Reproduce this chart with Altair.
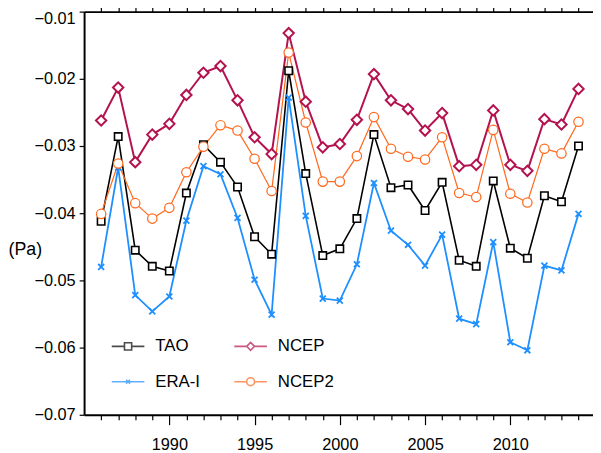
import altair as alt
import pandas as pd

years = list(range(1986, 2015))

tao = [-0.0412, -0.0286, -0.0455, -0.0479, -0.0486, -0.0370, -0.0298, -0.0324, -0.0361, -0.0435,
       -0.0461, -0.0188, -0.0341, -0.0463, -0.0453, -0.0408, -0.0283, -0.0362, -0.0358, -0.0396,
       -0.0354, -0.0470, -0.0479, -0.0352, -0.0452, -0.0467, -0.0374, -0.0383, -0.0300]

era_i = [-0.0480, -0.0332, -0.0522, -0.0546, -0.0524, -0.0411, -0.0330, -0.0342, -0.0407, -0.0499,
         -0.0551, -0.0228, -0.0404, -0.0527, -0.0530, -0.0476, -0.0355, -0.0426, -0.0447, -0.0478,
         -0.0432, -0.0557, -0.0565, -0.0443, -0.0592, -0.0604, -0.0478, -0.0485, -0.0401]

ncep = [-0.0262, -0.0213, -0.0324, -0.0283, -0.0267, -0.0224, -0.0191, -0.0181, -0.0232, -0.0287,
        -0.0312, -0.0132, -0.0234, -0.0302, -0.0297, -0.0261, -0.0193, -0.0232, -0.0245, -0.0277,
        -0.0251, -0.0330, -0.0328, -0.0247, -0.0328, -0.0337, -0.0260, -0.0268, -0.0215]

ncep2 = [-0.0401, -0.0326, -0.0385, -0.0408, -0.0392, -0.0339, -0.0301, -0.0269, -0.0277, -0.0319,
         -0.0367, -0.0161, -0.0265, -0.0353, -0.0353, -0.0315, -0.0257, -0.0304, -0.0316, -0.0320,
         -0.0287, -0.0370, -0.0376, -0.0276, -0.0371, -0.0384, -0.0304, -0.0311, -0.0264]

series_names = ["TAO", "NCEP", "ERA-I", "NCEP2"]
series_colors = ["#000000", "#b3124e", "#1e8fff", "#ff6a1f"]
y_ticks = [-0.07, -0.06, -0.05, -0.04, -0.03, -0.02, -0.01]

rows = []
for name, vals in [("TAO", tao), ("ERA-I", era_i), ("NCEP", ncep), ("NCEP2", ncep2)]:
    for yr, v in zip(years, vals):
        rows.append({"year": yr, "value": v, "series": name})
df = pd.DataFrame(rows)

FONT = "Liberation Sans"

xscale = alt.Scale(domain=[1985, 2014.85], nice=False, zero=False)
yscale = alt.Scale(domain=[-0.07, -0.01], nice=False, zero=False)
color_scale = alt.Scale(domain=series_names, range=series_colors)
sw_scale = alt.Scale(type="ordinal", domain=series_names, range=[1.6, 2.0, 1.8, 1.25])

x_path = "M-1,-1L1,1M-1,1L1,-1"
point_shape_scale = alt.Scale(domain=series_names, range=["square", "diamond", x_path, "circle"])
size_scale = alt.Scale(type="ordinal", domain=series_names, range=[56, 110, 36, 90])

legend_paths = [
    "M-1,0H-0.22M0.22,0H1M-0.22,-0.22H0.22V0.22H-0.22Z",
    "M-1,0H-0.24M0.24,0H1M-0.24,0L0,-0.24L0.24,0L0,0.24Z",
    "M-1,0H1M-0.12,-0.12L0.12,0.12M-0.12,0.12L0.12,-0.12",
    "M-1,0H-0.24M0.24,0H1M-0.24,0A0.24,0.24,0,1,0,0.24,0A0.24,0.24,0,1,0,-0.24,0",
]
legend_shape_scale = alt.Scale(domain=series_names, range=legend_paths)

y_axis = alt.Axis(
    values=y_ticks, format=".2f", tickSize=5, tickColor="black", tickWidth=1.2,
    domainColor="black", domainWidth=2, grid=False,
    labelFont=FONT, labelFontSize=16.5, labelColor="black", labelPadding=4,
    labelOffset={"expr": "datum.value > -0.0105 ? 7 : 0"},
    title="(Pa)", titleAngle=0, titleX=-77, titleY=241, titleAlign="left",
    titleBaseline="middle", titleFont=FONT, titleFontSize=18, titleFontWeight="normal",
    titleColor="black",
)

bottom_axis = alt.Axis(
    orient="bottom", values=years, format="d", grid=False,
    tickSize={"expr": "datum.value % 5 === 0 ? 10 : 5"}, tickColor="black", tickWidth=1.2,
    domainColor="black", domainWidth=2,
    labelExpr="datum.value % 5 === 0 ? datum.label : ''",
    labelFont=FONT, labelFontSize=16.5, labelColor="black", labelPadding=12,
    title=None,
)

top_axis = alt.Axis(
    orient="top", values=years, grid=False, labels=False,
    tickSize=5, tickColor="black", tickWidth=1.2,
    domainColor="black", domainWidth=2, title=None,
)

lines = alt.Chart(df).mark_line().encode(
    x=alt.X("year:Q", scale=xscale, axis=bottom_axis),
    y=alt.Y("value:Q", scale=yscale, axis=y_axis),
    color=alt.Color("series:N", scale=color_scale, legend=None),
    strokeWidth=alt.StrokeWidth("series:N", scale=sw_scale, legend=None),
)

points = alt.Chart(df).mark_point(filled=False, fill="white", fillOpacity=1, opacity=1).encode(
    x=alt.X("year:Q", scale=xscale, axis=top_axis),
    y=alt.Y("value:Q", scale=yscale, axis=y_axis),
    color=alt.Color("series:N", scale=color_scale, legend=None),
    shape=alt.Shape("series:N", scale=point_shape_scale, legend=None),
    size=alt.Size("series:N", scale=size_scale, legend=None),
    strokeWidth=alt.StrokeWidth("series:N", scale=sw_scale, legend=None),
)

legend = alt.Legend(
    orient="none", legendX=27, legendY=321, columns=2, direction="horizontal",
    columnPadding=30, rowPadding=10,
    title=None, labelFont=FONT, labelFontSize=17, labelColor="black", labelOffset=10,
    symbolSize=1089, symbolStrokeWidth=1.6, symbolFillColor="white", padding=0,
)

legend_layer = alt.Chart(df).transform_filter("false").mark_point(filled=False).encode(
    shape=alt.Shape("series:N", scale=legend_shape_scale, legend=legend),
    color=alt.Color("series:N", scale=color_scale, legend=legend),
)

chart = alt.layer(lines, points, legend_layer).resolve_scale(
    shape="independent"
).resolve_legend(
    color="independent", shape="independent"
).resolve_axis(
    x="independent"
).properties(
    width=515, height=408,
    autosize=alt.AutoSizeParams(type="none"),
    padding={"left": 77, "top": 1, "right": 0, "bottom": 36},
).configure_view(strokeWidth=0)

chart.save("out.html", embed_options={"renderer": "svg", "actions": False})
